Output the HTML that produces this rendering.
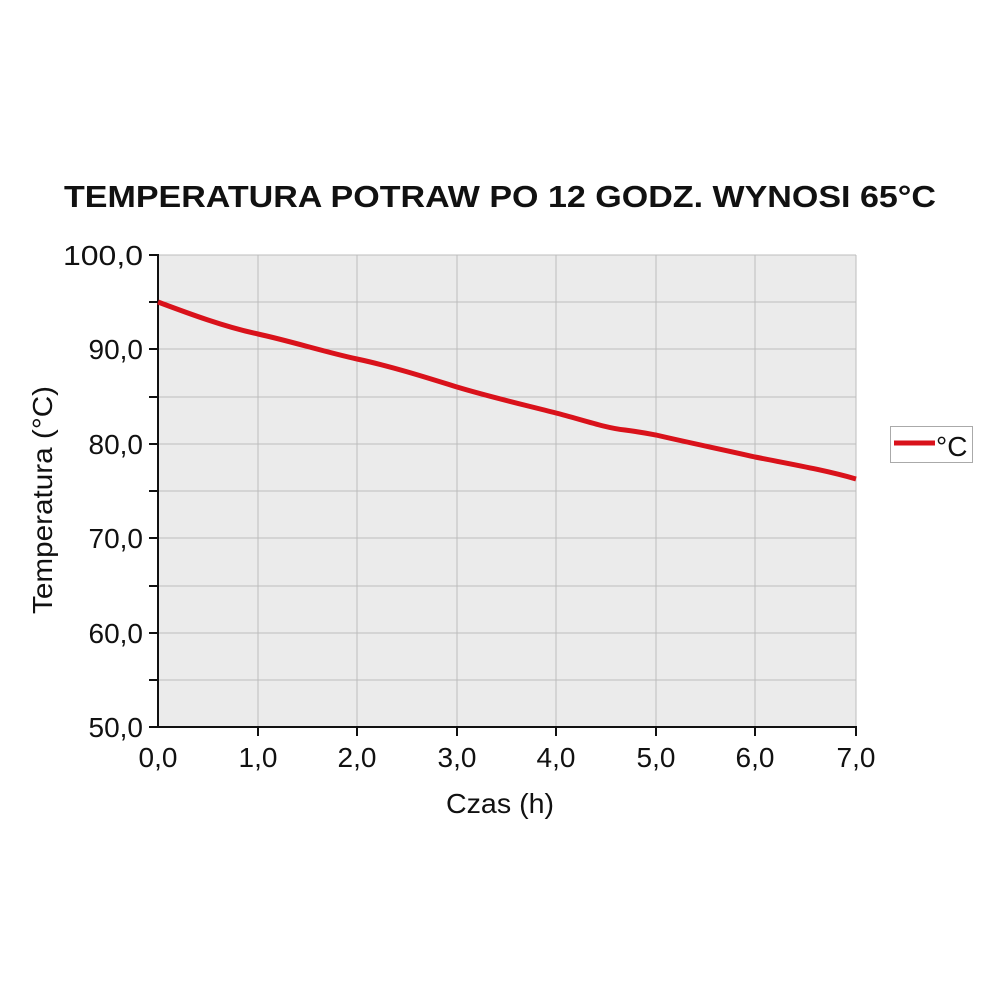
<!DOCTYPE html><html><head><style>body{margin:0;background:#fff}</style></head><body>
<svg width="1000" height="1000" xmlns="http://www.w3.org/2000/svg" font-family="Liberation Sans, sans-serif">
<text x="500" y="207" text-anchor="middle" font-size="31" font-weight="bold" fill="#111" textLength="872" lengthAdjust="spacingAndGlyphs">TEMPERATURA POTRAW PO 12 GODZ. WYNOSI 65°C</text>
<rect x="158" y="255" width="698" height="472" fill="#ebebeb"/>
<g stroke="#bdbdbd" stroke-width="1">
<line x1="158" y1="255" x2="856" y2="255"/><line x1="158" y1="302" x2="856" y2="302"/><line x1="158" y1="349" x2="856" y2="349"/><line x1="158" y1="397" x2="856" y2="397"/><line x1="158" y1="444" x2="856" y2="444"/><line x1="158" y1="491" x2="856" y2="491"/><line x1="158" y1="538" x2="856" y2="538"/><line x1="158" y1="586" x2="856" y2="586"/><line x1="158" y1="633" x2="856" y2="633"/><line x1="158" y1="680" x2="856" y2="680"/>
<line x1="258" y1="255" x2="258" y2="727"/><line x1="357" y1="255" x2="357" y2="727"/><line x1="457" y1="255" x2="457" y2="727"/><line x1="556" y1="255" x2="556" y2="727"/><line x1="656" y1="255" x2="656" y2="727"/><line x1="755" y1="255" x2="755" y2="727"/><line x1="856" y1="255" x2="856" y2="727"/>
</g>
<g stroke="#111" stroke-width="2">
<line x1="158" y1="254" x2="158" y2="728"/><line x1="157" y1="727" x2="857" y2="727"/>
<line x1="149" y1="255" x2="158" y2="255"/><line x1="149" y1="302" x2="158" y2="302"/><line x1="149" y1="349" x2="158" y2="349"/><line x1="149" y1="397" x2="158" y2="397"/><line x1="149" y1="444" x2="158" y2="444"/><line x1="149" y1="491" x2="158" y2="491"/><line x1="149" y1="538" x2="158" y2="538"/><line x1="149" y1="586" x2="158" y2="586"/><line x1="149" y1="633" x2="158" y2="633"/><line x1="149" y1="680" x2="158" y2="680"/><line x1="149" y1="727" x2="158" y2="727"/>
<line x1="258" y1="727" x2="258" y2="736"/><line x1="357" y1="727" x2="357" y2="736"/><line x1="457" y1="727" x2="457" y2="736"/><line x1="556" y1="727" x2="556" y2="736"/><line x1="656" y1="727" x2="656" y2="736"/><line x1="755" y1="727" x2="755" y2="736"/><line x1="856" y1="727" x2="856" y2="736"/>
</g>
<path d="M158,302 C190,314 225,327 258,334 C290,341 325,352 357,359 C390,366 425,377 457,387 C490,397 525,405 556,413 C580,419 605,428 625,430 C640,432 645,433 656,435 C690,443 725,450 755,457 C790,464 825,470 856,479" fill="none" stroke="#d9121b" stroke-width="5"/>
<g font-size="28" fill="#111" text-anchor="end">
<text x="143" y="265" textLength="80" lengthAdjust="spacingAndGlyphs">100,0</text><text x="143" y="359">90,0</text><text x="143" y="454">80,0</text><text x="143" y="548">70,0</text><text x="143" y="643">60,0</text><text x="143" y="737">50,0</text>
</g>
<g font-size="28" fill="#111" text-anchor="middle">
<text x="158" y="767">0,0</text><text x="258" y="767">1,0</text><text x="357" y="767">2,0</text><text x="457" y="767">3,0</text><text x="556" y="767">4,0</text><text x="656" y="767">5,0</text><text x="755" y="767">6,0</text><text x="856" y="767">7,0</text>
<text x="500" y="813" textLength="108" lengthAdjust="spacingAndGlyphs">Czas (h)</text>
<text transform="translate(52,500) rotate(-90)" textLength="228" lengthAdjust="spacingAndGlyphs">Temperatura (°C)</text>
</g>
<rect x="890.5" y="426.5" width="82" height="36" fill="#fff" stroke="#aaa"/>
<line x1="894" y1="443" x2="935" y2="443" stroke="#d9121b" stroke-width="5"/>
<text x="936" y="456" font-size="28" fill="#111">°C</text>
</svg>
</body></html>
